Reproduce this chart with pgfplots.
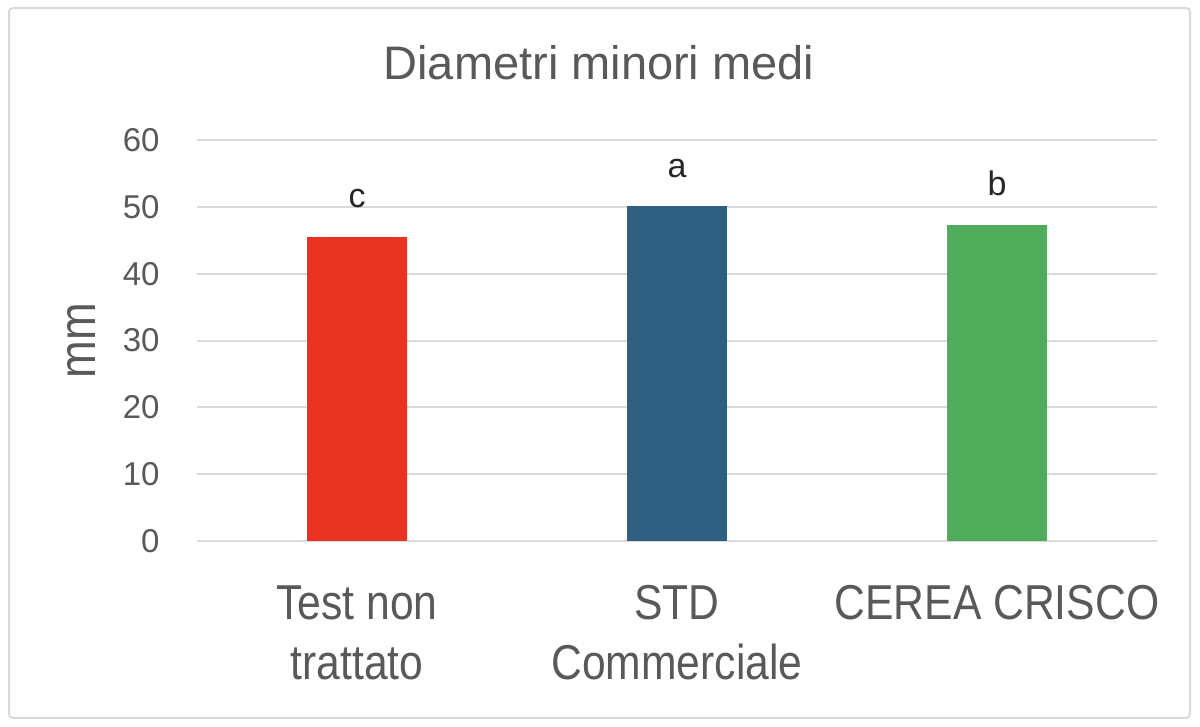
\documentclass[border=0pt]{standalone}
\usepackage{pgfplots}
\pgfplotsset{compat=1.18}
\usepackage{fontspec}
\setmainfont{Liberation Sans}
\newfontfamily\narrowfont[FakeStretch=0.87]{Liberation Sans}
\definecolor{txtgray}{HTML}{595959}
\definecolor{gridgray}{HTML}{D9D9D9}
\definecolor{barred}{HTML}{E83323}
\definecolor{barblue}{HTML}{2E5F80}
\definecolor{bargreen}{HTML}{50AB5A}
\begin{document}
\begin{tikzpicture}
\path[fill=white] (0,0) rectangle (600pt,363.5pt);
\draw[gridgray, line width=1pt, rounded corners=2pt] (4.5pt,4.5pt) rectangle (595pt,359.5pt);
\node[anchor=base, text=txtgray, font=\fontsize{23.5}{28}\selectfont, inner sep=0pt] at (299.5pt,323.5pt) {Diametri minori medi};
\node[anchor=base, rotate=90, text=txtgray, font=\narrowfont\fontsize{26}{30}\selectfont, inner sep=0pt] at (47.5pt,193pt) {mm};
\begin{axis}[
  at={(98.5pt,93pt)}, anchor=south west,
  scale only axis, width=480pt, height=200.5pt,
  xmin=-0.5, xmax=2.5, ymin=0, ymax=60,
  ytick={0,10,...,60},
  xtick={0,1,2},
  xticklabels={{Test non\\trattato},{STD\\Commerciale},{CEREA CRISCO}},
  xticklabel style={anchor=north, inner sep=0pt, yshift=-22pt, align=center, text=txtgray,
     font=\narrowfont\fontsize{24.5}{30}\selectfont},
  yticklabel style={text=txtgray, font=\fontsize{16.5}{20}\selectfont, inner sep=0pt, xshift=-18.5pt},
  /pgf/number format/assume math mode=true,
  major tick length=0pt,
  axis lines=left,
  axis line style={draw=none},
  ymajorgrids, grid style={gridgray, line width=1pt},
  ybar, bar width=50pt, bar shift=0pt,
  nodes near coords, point meta=explicit symbolic,
  nodes near coords style={anchor=base, inner sep=0pt, yshift=14.5pt, text=black!85, font=\fontsize{17}{20}\selectfont},
  clip=false,
]
\addplot[fill=barred, draw=none] coordinates {(0,45.5)[c]};
\addplot[fill=barblue, draw=none] coordinates {(1,50.1)[a]};
\addplot[fill=bargreen, draw=none] coordinates {(2,47.3)[b]};
\end{axis}
\end{tikzpicture}
\end{document}
